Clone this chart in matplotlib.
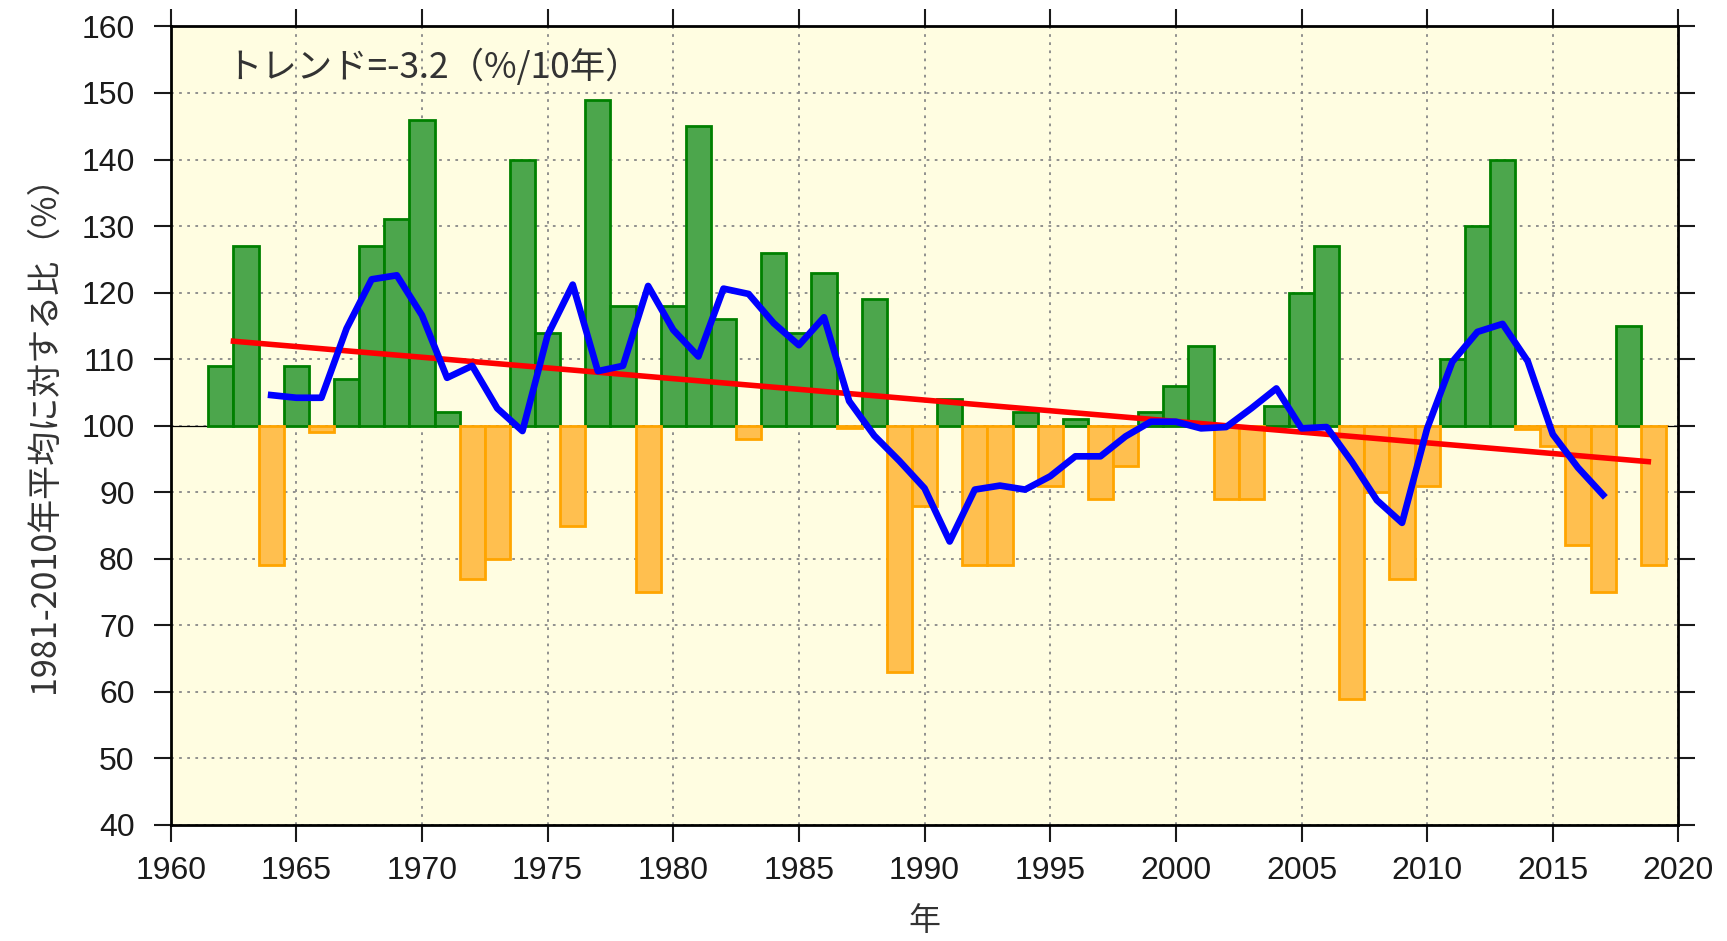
import matplotlib
matplotlib.use('Agg')
import matplotlib.pyplot as plt
import numpy as np

# 年降水量（1981-2010年平均に対する比, %）
years = np.arange(1962, 2020)
ratio = [109, 127, 79, 109, 99, 107, 127, 131, 146, 102,
         77, 80, 140, 114, 85, 149, 118, 75, 118, 145,
         116, 98, 126, 114, 123, 99.6, 119, 63, 88, 104,
         79, 79, 102, 91, 101, 89, 94, 102, 106, 112,
         89, 89, 103, 120, 127, 59, 90, 77, 91, 110,
         130, 140, 99.5, 97, 82, 75, 115, 79]

# 5年移動平均
ma_years = np.arange(1964, 2018)
ma_vals = [104.6, 104.2, 104.2, 114.6, 122.0, 122.6, 116.6, 107.2, 109.0, 102.6,
           99.2, 113.6, 121.2, 108.2, 109.0, 121.0, 114.4, 110.4, 120.6, 119.8,
           115.4, 112.1, 116.3, 103.7, 98.5, 94.7, 90.6, 82.6, 90.4, 91.0,
           90.4, 92.4, 95.4, 95.4, 98.4, 100.6, 100.6, 99.6, 99.8, 102.6,
           105.6, 99.6, 99.8, 94.6, 88.8, 85.4, 99.6, 109.6, 114.1, 115.3,
           109.7, 98.7, 93.7, 89.6]

# 長期変化傾向
trend_x = [1962.5, 2018.8]
trend_y = [112.7, 94.6]
trend_label = 'トレンド=-3.2（%/10年）'

x_ticks = np.arange(1960, 2021, 5)
y_ticks = np.arange(40, 161, 10)

jp = ['Noto Sans CJK JP', 'DejaVu Sans']
num = ['Liberation Sans', 'DejaVu Sans']

fig = plt.figure(figsize=(17.27, 9.41), dpi=100)
ax = fig.add_axes([0.0988, 0.1233, 0.8731, 0.8486])
ax.set_facecolor('#FFFDE1')

ratio = np.array(ratio, dtype=float)
pos = ratio >= 100
ax.bar(years[pos], ratio[pos] - 100, bottom=100, width=1.0,
       color='#4CA64C', edgecolor='#008000', linewidth=2, zorder=2)
ax.bar(years[~pos], ratio[~pos] - 100, bottom=100, width=1.0,
       color='#FFBF4F', edgecolor='#FFA500', linewidth=2, zorder=2)

ax.axhline(100, color='k', linewidth=0.9, zorder=1)
ax.plot(trend_x, trend_y, color='#FF0000', linewidth=4, zorder=3)
ax.plot(ma_years, ma_vals, color='#0000FF', linewidth=4.8, zorder=4)

ax.set_xlim(1960, 2020)
ax.set_ylim(40, 160)
ax.set_xticks(x_ticks)
ax.set_yticks(y_ticks)
ax.grid(True, color='#888888', linestyle=(0, (1.5, 3)), linewidth=1.3, zorder=0)
ax.set_axisbelow(True)

ax.tick_params(axis='both', which='major', direction='out', length=12, width=1.5,
               top=True, right=True, labelsize=23, colors='#1a1a1a')
ax.tick_params(axis='y', pad=14)
ax.tick_params(axis='x', pad=10)
for lab in ax.get_xticklabels() + ax.get_yticklabels():
    lab.set_family(num)
for sp in ax.spines.values():
    sp.set_linewidth(2)
    sp.set_color('black')

ax.text(1962.2, 153.9, trend_label, family=jp, fontsize=25.5, color='#333333',
        va='center', ha='left', zorder=5)
ax.set_ylabel('1981-2010年平均に対する比（%）', family=jp, fontsize=24.5,
              color='#333333', labelpad=14)
ax.set_xlabel('年', family=jp, fontsize=23, color='#333333', labelpad=14)

fig.savefig('out.png', dpi=100)
